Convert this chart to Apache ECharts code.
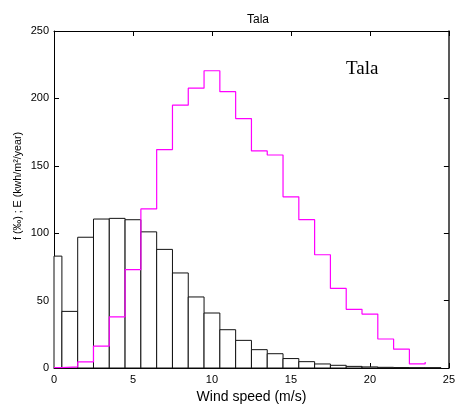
<!DOCTYPE html>
<html><head><meta charset="utf-8">
<script src="https://cdn.jsdelivr.net/npm/echarts@6/dist/echarts.min.js"></script>
<style>html,body{margin:0;padding:0;background:#fff}#c{width:458px;height:411px}</style>
</head><body><div id="c"></div>
<script>
// Bin centres (m/s) for the frequency histogram
const windSpeed = [0,1,2,3,4,5,6,7,8,9,10,11,12,13,14,15,16,17,18,19,20,21,22,23,24];
// f (per mille)
const frequency = [83,42,97,110.5,111,110,101,88,70.5,52.7,40.8,28.4,20.5,13.6,10.6,7,4.7,3,2,1.2,0.8,0.5,0.3,0.2,0.2];
// Energy bins centres and values E (kWh/m2/year)
const energyBins = [0,1,2,3,4,5,6,7,8,9,10,11,12,13,14,15,16,17,18,19,20,21,22,23];
const energy = [0.3,0.8,4.5,16.3,38,73,118,162,195,207.6,220.5,205,185,161,158,127,110,84,59,43.5,40,21.5,14,3];
const energyEndTick = 4.5;
const xTicks = [0,5,10,15,20,25];
const yTicks = [0,50,100,150,200,250];

const barData = windSpeed.map((c,i)=>[c, frequency[i]]);
const stepData = energyBins.map((c,i)=>[Math.max(0,c-0.5), energy[i]]);
const lastC = energyBins[energyBins.length-1];
stepData.push([lastC+0.5, energy[energy.length-1]]);
stepData.push([lastC+0.5, energyEndTick]);

const font = 'Liberation Sans, Arial, sans-serif';
const chart = echarts.init(document.getElementById('c'), null, {renderer:'canvas'});
const axLine = {show:true, onZero:false, lineStyle:{color:'#000', width:1}};
const tick = {show:true, inside:true, length:5, lineStyle:{color:'#000'}};
chart.setOption({
  animation:false,
  backgroundColor:'#fff',
  title:{text:'Tala', left:242, top:9, textStyle:{fontFamily:font, fontSize:12, fontWeight:'normal', color:'#000'}},
  grid:{left:54, right:5, top:31, bottom:43, containLabel:false},
  graphic:[
    {type:'text', left:346, top:60, style:{text:'Tala', fontFamily:'Liberation Serif, Times New Roman, serif', fontSize:19, fill:'#000'}},
    {type:'text', x:18, y:186, rotation:Math.PI/2, style:{text:'f (‰) ; E (kwh/m²/year)', fontFamily:font, fontSize:10.7, fill:'#000', align:'center', verticalAlign:'middle'}}
  ],
  xAxis:[
    {type:'value', min:xTicks[0], max:xTicks[xTicks.length-1], interval:5, position:'bottom',
     name:'Wind speed (m/s)', nameLocation:'middle', nameGap:20,
     nameTextStyle:{fontFamily:font, fontSize:14, color:'#000'},
     axisLine:axLine, axisTick:tick,
     axisLabel:{fontFamily:font, fontSize:11, color:'#000', margin:6}, splitLine:{show:false}},
    {type:'value', min:xTicks[0], max:xTicks[xTicks.length-1], interval:5, position:'top',
     axisLine:axLine, axisTick:tick, axisLabel:{show:false}, splitLine:{show:false}}
  ],
  yAxis:[
    {type:'value', min:yTicks[0], max:yTicks[yTicks.length-1], interval:50, position:'left',
     axisLine:axLine, axisTick:tick,
     axisLabel:{fontFamily:font, fontSize:11, color:'#000', margin:5}, splitLine:{show:false}},
    {type:'value', min:yTicks[0], max:yTicks[yTicks.length-1], interval:50, position:'right',
     axisLine:{show:true, onZero:false, lineStyle:{color:'#222', width:1.5}}, axisTick:tick, axisLabel:{show:false}, splitLine:{show:false}}
  ],
  series:[
    {type:'custom', xAxisIndex:0, yAxisIndex:0, data:barData, z:2,
     renderItem:function(params, api){
       const c = api.value(0), v = api.value(1);
       const p0 = api.coord([Math.max(0,c-0.5), v]);
       const p1 = api.coord([c+0.5, 0]);
       return {type:'rect', shape:{x:p0[0], y:p0[1], width:p1[0]-p0[0], height:p1[1]-p0[1]},
               style:{fill:'#fff', stroke:'#111', lineWidth:1}};
     }},
    {type:'line', xAxisIndex:0, yAxisIndex:0, data:stepData, step:'end', z:3,
     showSymbol:false, symbol:'none', lineStyle:{color:'#ff00ff', width:1.2}}
  ]
});
</script></body></html>
